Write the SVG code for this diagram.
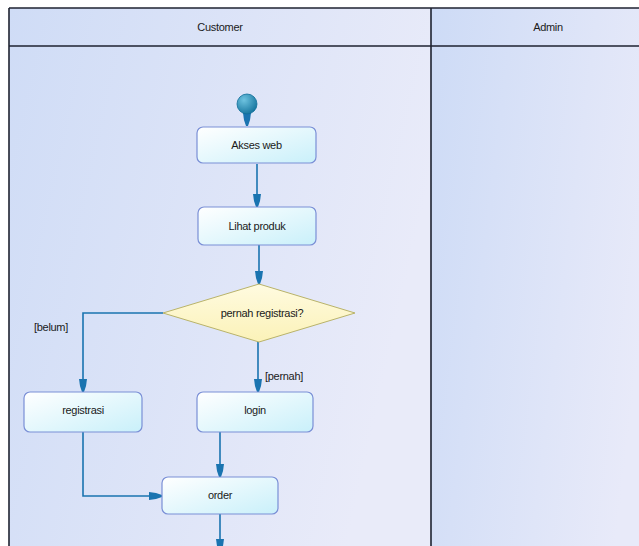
<svg xmlns="http://www.w3.org/2000/svg" width="639" height="546" viewBox="0 0 639 546">
  <defs>
    <linearGradient id="laneBg" x1="0" y1="0" x2="1" y2="0.3">
      <stop offset="0" stop-color="#cfdcf6"/>
      <stop offset="1" stop-color="#e9ebf9"/>
    </linearGradient>
    <linearGradient id="laneBg2" x1="0" y1="0" x2="1" y2="0.3">
      <stop offset="0" stop-color="#cddbf6"/>
      <stop offset="1" stop-color="#e8eaf9"/>
    </linearGradient>
    <linearGradient id="actFill" x1="0" y1="0" x2="1" y2="1">
      <stop offset="0" stop-color="#ffffff"/>
      <stop offset="1" stop-color="#c9f0fa"/>
    </linearGradient>
    <linearGradient id="decFill" x1="0" y1="0" x2="0" y2="1">
      <stop offset="0" stop-color="#fffbe0"/>
      <stop offset="1" stop-color="#fbf2b8"/>
    </linearGradient>
    <radialGradient id="startFill" cx="0.35" cy="0.3" r="0.8">
      <stop offset="0" stop-color="#6ec3e0"/>
      <stop offset="1" stop-color="#0f6f99"/>
    </radialGradient>
    <!-- filled arrowhead, drawn pointing along +x -->
    <marker id="arr" markerWidth="14" markerHeight="10" refX="13" refY="5" orient="auto" markerUnits="userSpaceOnUse" viewBox="0 0 14 10">
      <path d="M0,1 L7,2 L13,4 L13,6 L7,8 L0,9 Z" fill="#1a74b0"/>
    </marker>
    <style>
      .lane { stroke: #1e2230; stroke-width: 1.6; }
      .act { fill: url(#actFill); stroke: #7a8fd6; stroke-width: 1.2; }
      .dec { fill: url(#decFill); stroke: #b9b36a; stroke-width: 1; }
      .lbl { font-family: "Liberation Sans", Arial, sans-serif; font-size: 11px; fill: #1a1a1a; letter-spacing: -0.3px; }
      .mid { text-anchor: middle; }
      .flow { fill: none; stroke: #1a74b0; stroke-width: 1.6; }
    </style>
  </defs>

  <rect x="0" y="0" width="639" height="546" fill="#ffffff"/>

  <!-- swimlanes -->
  <g id="lane-customer">
    <rect x="9" y="8" width="422" height="560" fill="url(#laneBg)"/>
    <text class="lbl mid" x="220" y="31">Customer</text>
  </g>
  <g id="lane-admin">
    <rect x="431" y="8" width="230" height="560" fill="url(#laneBg2)"/>
    <text class="lbl mid" x="548" y="31">Admin</text>
  </g>
  <g id="lane-lines" class="lane" fill="none">
    <line x1="9" y1="8" x2="639" y2="8"/>
    <line x1="9" y1="46" x2="639" y2="46"/>
    <line x1="9" y1="8" x2="9" y2="546"/>
    <line x1="431" y1="8" x2="431" y2="546"/>
  </g>

  <!-- connectors -->
  <g id="connectors" class="flow">
    <path d="M247,114 V126" marker-end="url(#arr)"/>
    <path d="M257,164 V207" marker-end="url(#arr)"/>
    <path d="M259,245 V284" marker-end="url(#arr)"/>
    <path d="M163,313 H83 V392" marker-end="url(#arr)"/>
    <path d="M258,342 V392" marker-end="url(#arr)"/>
    <path d="M83,432 V496 H162" marker-end="url(#arr)"/>
    <path d="M220,432 V477" marker-end="url(#arr)"/>
    <path d="M220,514 V552" marker-end="url(#arr)"/>
  </g>

  <!-- guard labels -->
  <text class="lbl" x="34" y="331">[belum]</text>
  <text class="lbl" x="265" y="380">[pernah]</text>

  <!-- nodes -->
  <g id="start">
    <circle cx="247" cy="104" r="10" fill="url(#startFill)" stroke="#0f6f99" stroke-width="0.8"/>
  </g>
  <g id="akses-web">
    <rect class="act" x="197" y="127" width="119" height="36" rx="6"/>
    <text class="lbl mid" x="256.5" y="149">Akses web</text>
  </g>
  <g id="lihat-produk">
    <rect class="act" x="198" y="207" width="118" height="38" rx="6"/>
    <text class="lbl mid" x="257" y="230">Lihat produk</text>
  </g>
  <g id="pernah-registrasi">
    <polygon class="dec" points="259,284 355,313 259,342 163,313"/>
    <text class="lbl mid" x="262" y="317">pernah registrasi?</text>
  </g>
  <g id="registrasi">
    <rect class="act" x="24" y="392" width="118" height="40" rx="6"/>
    <text class="lbl mid" x="83" y="414">registrasi</text>
  </g>
  <g id="login">
    <rect class="act" x="197" y="392" width="116" height="40" rx="6"/>
    <text class="lbl mid" x="255" y="414">login</text>
  </g>
  <g id="order">
    <rect class="act" x="162" y="477" width="116" height="37" rx="6"/>
    <text class="lbl mid" x="220" y="499">order</text>
  </g>
</svg>
